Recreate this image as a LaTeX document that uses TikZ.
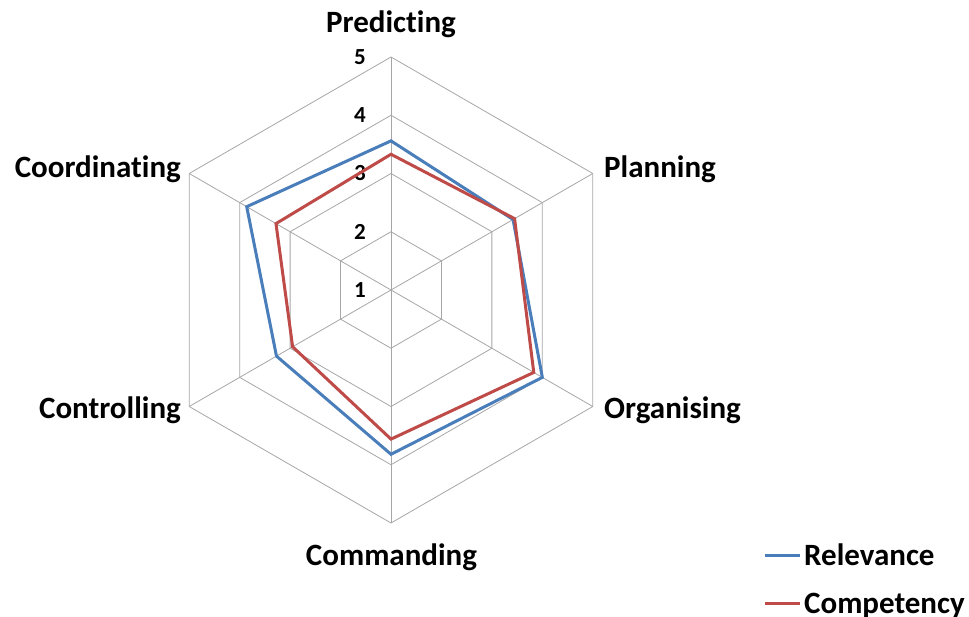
\documentclass[tikz,border=0pt]{standalone}
\usepackage{fontspec}
\setmainfont{Carlito}[Ligatures=NoCommon]
\usetikzlibrary{positioning}
\definecolor{relblue}{HTML}{4A7EBB}
\definecolor{compred}{HTML}{BE4B48}
\definecolor{gridgray}{HTML}{A6A6A6}

\begin{document}
\begin{tikzpicture}[x=1pt, y=1pt,
  grid/.style={draw=gridgray, line width=0.8pt},
  series/.style={line width=3pt, line join=miter},
  catlabel/.style={inner sep=0pt, font=\bfseries\fontsize{31}{32}\selectfont},
  ticklabel/.style={inner sep=0pt, anchor=east, font=\bfseries\fontsize{23}{24}\selectfont}]

\useasboundingbox (-391,-326) rectangle (578,290);

\coordinate (centre) at (0,0);

% rings at 2..5 (the scale starts at 1 in the centre)
\foreach \r in {1,...,4}{
\draw[grid] (90:\r*58.25) \foreach \a in {30,-30,...,-210}{ -- (\a:\r*58.25)} -- cycle;
}

% spokes
\foreach \a [count=\i] in {90,30,-30,-90,-150,-210}{
\coordinate (spoke\i) at (\a:233);
\draw[grid] (centre) -- (spoke\i);
}

% scale
\foreach \v in {1,...,5}{
\node[ticklabel](tick\v) at (-25,{(\v-1)*58.25}){\v};
}

% categories
\node[catlabel, anchor=base] (predicting) at (0,257) {Predicting};
\node[catlabel, anchor=base west] (planning) at (213,113) {Planning};
\node[catlabel, anchor=base west] (organising) at (213,-128) {Organising};
\node[catlabel, anchor=base] (commanding) at (0.5,-275) {Commanding};
\node[catlabel, anchor=base east] (controlling) at (-210,-128) {Controlling};
\node[catlabel, anchor=base east] (coordinating) at (-210,113) {Coordinating};

% data
\foreach \a/\v [count=\i] in {90/3.56, 30/3.42, -30/4.0, -90/3.82, -150/3.27, -210/3.86}{
\coordinate (rel\i) at (\a:{(\v-1)*58.25});
}
\foreach \a/\v [count=\i] in {90/3.33, 30/3.45, -30/3.83, -90/3.56, -150/2.95, -210/3.28}{
\coordinate (comp\i) at (\a:{(\v-1)*58.25});
}
\draw[series, relblue] (rel1) -- (rel2) -- (rel3) -- (rel4) -- (rel5) -- (rel6) -- cycle;
\draw[series, compred] (comp1) -- (comp2) -- (comp3) -- (comp4) -- (comp5) -- (comp6) -- cycle;

% legend
\coordinate (relkeyA) at (374,-265.7);
\coordinate (relkeyB) at (409,-265.7);
\coordinate (compkeyA) at (374,-313);
\coordinate (compkeyB) at (409,-313);
\draw[series, relblue] (relkeyA) -- (relkeyB);
\draw[series, compred] (compkeyA) -- (compkeyB);
\node[catlabel, anchor=base west] (relevance) at (413,-275) {Relevance};
\node[catlabel, anchor=base west] (competency) at (413,-323.3) {Competency};

\end{tikzpicture}
\end{document}
